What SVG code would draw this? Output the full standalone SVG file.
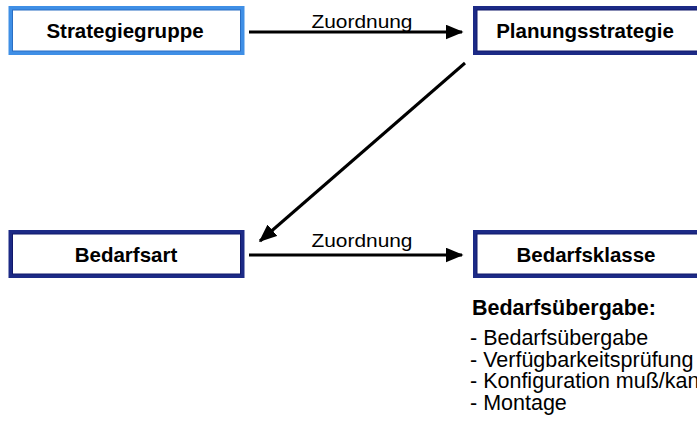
<svg xmlns="http://www.w3.org/2000/svg" width="697" height="429" viewBox="0 0 697 429">
<style>
.box{fill:#ffffff;stroke-width:4}
.light{stroke:#3f8fe6}
.lightin{fill:none;stroke:#2a6fc4;stroke-width:1}
.dark{stroke:#1c2a86}
.darkin{fill:none;stroke:#10186a;stroke-width:1}
.lbl{font-family:"Liberation Sans",Arial,sans-serif;font-weight:bold;font-size:20.5px;fill:#000;text-anchor:middle}
.edge{font-family:"Liberation Sans",Arial,sans-serif;font-size:18px;fill:#000;text-anchor:middle}
.txt{font-family:"Liberation Sans",Arial,sans-serif;font-size:21.5px;fill:#000}
.line{stroke:#000;stroke-width:3;fill:none}
</style>
<defs>
<marker id="ah" markerWidth="6" markerHeight="5" refX="5.5" refY="2.5" orient="auto" markerUnits="strokeWidth">
<path d="M0,0 L6,2.5 L0,5 Z" fill="#000"/>
</marker>
</defs>
<rect width="697" height="429" fill="#ffffff"/>
<g id="connectors">
<line class="line" x1="249" y1="32" x2="462" y2="32" marker-end="url(#ah)"/>
<text class="edge" x="362" y="28" textLength="101" lengthAdjust="spacingAndGlyphs">Zuordnung</text>
<line class="line" x1="465" y1="63" x2="260" y2="241" marker-end="url(#ah)"/>
<line class="line" x1="249" y1="255" x2="462" y2="255" marker-end="url(#ah)"/>
<text class="edge" x="362" y="247" textLength="101" lengthAdjust="spacingAndGlyphs">Zuordnung</text>
</g>
<g id="strategiegruppe">
<rect class="box light" x="10.5" y="8" width="232" height="45"/>
<rect class="lightin" x="12.5" y="10" width="228" height="41"/>
<text class="lbl" x="125" y="37.5">Strategiegruppe</text>
</g>
<g id="planungsstrategie">
<rect class="box dark" x="475" y="8" width="235" height="45"/>
<rect class="darkin" x="477" y="10" width="231" height="41"/>
<text class="lbl" x="585" y="37.5">Planungsstrategie</text>
</g>
<g id="bedarfsart">
<rect class="box dark" x="10.5" y="232" width="232" height="44"/>
<rect class="darkin" x="12.5" y="234" width="228" height="40"/>
<text class="lbl" x="126" y="262">Bedarfsart</text>
</g>
<g id="bedarfsklasse">
<rect class="box dark" x="475" y="232" width="235" height="44"/>
<rect class="darkin" x="477" y="234" width="231" height="40"/>
<text class="lbl" x="586" y="262">Bedarfsklasse</text>
</g>
<g id="bedarfsuebergabe">
<text class="txt" x="472" y="315" font-weight="bold" font-size="21px">Bedarfsübergabe:</text>
<text class="txt" x="470" y="345">- Bedarfsübergabe</text>
<text class="txt" x="470" y="367">- Verfügbarkeitsprüfung</text>
<text class="txt" x="470" y="388">- Konfiguration muß/kann</text>
<text class="txt" x="470" y="410">- Montage</text>
</g>
</svg>
